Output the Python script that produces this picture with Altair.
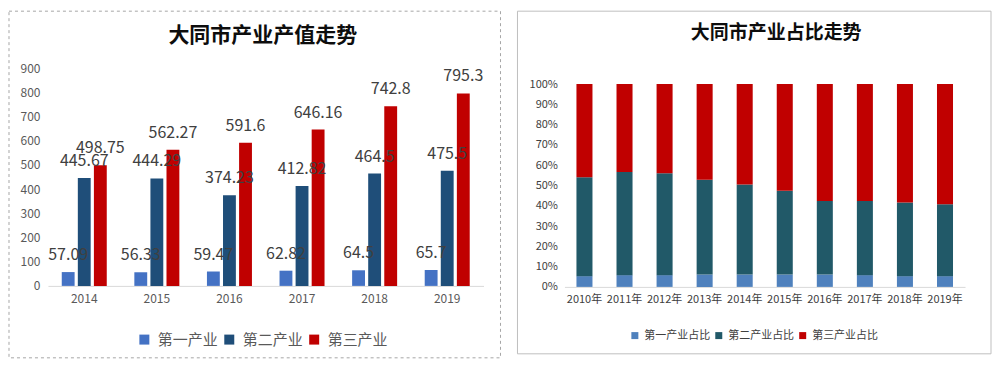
import altair as alt
import pandas as pd

FONT = "Noto Sans CJK SC"

# ---------- data: left chart (产值, 亿元) ----------
years_left = ["2014", "2015", "2016", "2017", "2018", "2019"]
industries_left = ["第一产业", "第二产业", "第三产业"]
primary_value = [57.09, 56.33, 59.47, 62.82, 64.5, 65.7]
secondary_value = [445.67, 444.29, 374.23, 412.82, 464.5, 475.5]
tertiary_value = [498.75, 562.27, 591.6, 646.16, 742.8, 795.3]
colors_left = ["#4472C4", "#1F4E79", "#C00000"]
title_left = "大同市产业产值走势"

# ---------- data: right chart (占比, %) ----------
years_right = ["2010年", "2011年", "2012年", "2013年", "2014年",
               "2015年", "2016年", "2017年", "2018年", "2019年"]
industries_right = ["第一产业占比", "第二产业占比", "第三产业占比"]
primary_share = [5.3, 5.8, 5.8, 6.1, 6.1, 6.1, 6.1, 5.8, 5.3, 5.3]
secondary_share = [48.8, 50.8, 50.3, 46.7, 44.4, 41.3, 36.3, 36.6, 36.3, 35.5]
tertiary_share = [45.9, 43.4, 43.9, 47.2, 49.5, 52.6, 57.6, 57.6, 58.4, 59.2]
colors_right = ["#4F81BD", "#215968", "#C00000"]
title_right = "大同市产业占比走势"

rows1 = []
for i, series in enumerate([primary_value, secondary_value, tertiary_value]):
    for y, v in zip(years_left, series):
        rows1.append({"year": y, "industry": industries_left[i], "idx": i, "value": v})
df1 = pd.DataFrame(rows1)

rows2 = []
for i, series in enumerate([primary_share, secondary_share, tertiary_share]):
    for y, v in zip(years_right, series):
        rows2.append({"year": y, "industry": industries_right[i], "idx": i, "share": v})
df2 = pd.DataFrame(rows2)

one = alt.Data(values=[{}])

# ---------- left chart ----------
W1, H1 = 436, 218
base1 = alt.Chart(df1).encode(
    x=alt.X("year:N", sort=years_left,
            scale=alt.Scale(paddingInner=0.38, paddingOuter=0.19),
            axis=alt.Axis(title=None, labelAngle=0, domainColor="#D9D9D9", ticks=False,
                          labelColor="#595959", labelFontSize=12, labelPadding=8, labelFont=FONT)),
    y=alt.Y("value:Q", scale=alt.Scale(domain=[0, 900], nice=False),
            axis=alt.Axis(title=None, values=list(range(0, 901, 100)), domain=False, ticks=False,
                          grid=False, labelColor="#595959", labelFontSize=12, labelPadding=8,
                          labelFont=FONT)),
    xOffset=alt.XOffset("industry:N", sort=industries_left,
                        scale=alt.Scale(paddingInner=0.2, paddingOuter=0)),
)
bars1 = base1.mark_bar().encode(
    color=alt.Color("industry:N", sort=industries_left,
                    scale=alt.Scale(domain=industries_left, range=colors_left),
                    legend=alt.Legend(title=None, orient="none", direction="horizontal",
                                      legendX=89, legendY=264, symbolType="square",
                                      symbolSize=100, symbolStrokeWidth=0, labelFontSize=15,
                                      labelColor="#595959", labelFont=FONT, columnPadding=3,
                                      labelOffset=6))
)
labels1 = base1.transform_calculate(label="'' + datum.value").mark_text(
    dy=-17, fontSize=16, color="#404040", font=FONT
).encode(text="label:N")
frame1 = alt.Chart(one).mark_rect(fill="white", fillOpacity=0, stroke="#A6A6A6",
                                  strokeDash=[3, 3], strokeWidth=1).encode(
    x=alt.value(-39), x2=alt.value(453), y=alt.value(-57), y2=alt.value(290))
t1 = alt.Chart(one).mark_text(fontSize=21, fontWeight="bold", font=FONT, color="#0D0D0D").encode(
    x=alt.value(215), y=alt.value(-32), text=alt.value(title_left))
left = alt.layer(frame1, bars1, labels1, t1).properties(width=W1, height=H1)

# ---------- right chart ----------
W2, H2 = 401, 219
bars2 = alt.Chart(df2).mark_bar().encode(
    x=alt.X("year:N", sort=years_right,
            scale=alt.Scale(paddingInner=0.6, paddingOuter=0.3),
            axis=alt.Axis(title=None, labelAngle=0, domainColor="#D9D9D9", ticks=False,
                          labelColor="#404040", labelFontSize=11, labelPadding=7, labelFont=FONT)),
    y=alt.Y("share:Q", stack="normalize",
            scale=alt.Scale(domain=[0, 1], range=[219, 16], nice=False),
            axis=alt.Axis(title=None, format=".0%", values=[i / 10 for i in range(11)],
                          domain=False, ticks=False, grid=False, labelColor="#404040",
                          labelFontSize=11, labelPadding=7, labelFont=FONT)),
    color=alt.Color("industry:N", sort=industries_right,
                    scale=alt.Scale(domain=industries_right, range=colors_right),
                    legend=alt.Legend(title=None, orient="none", direction="horizontal",
                                      legendX=65, legendY=262, symbolType="square",
                                      symbolSize=49, symbolStrokeWidth=0, labelFontSize=11,
                                      labelColor="#404040", labelFont=FONT, columnPadding=3,
                                      labelOffset=4)),
    order=alt.Order("idx:Q", sort="ascending"),
)
frame2 = alt.Chart(one).mark_rect(fill="white", fillOpacity=0, stroke="#BFBFBF",
                                  strokeWidth=1).encode(
    x=alt.value(-47), x2=alt.value(427), y=alt.value(-57), y2=alt.value(286))
t2 = alt.Chart(one).mark_text(fontSize=19, fontWeight="bold", font=FONT, color="#0D0D0D").encode(
    x=alt.value(212), y=alt.value(-35), text=alt.value(title_right))
right = alt.layer(frame2, bars2, t2).properties(width=W2, height=H2)

chart = alt.hconcat(left, right, spacing=81, bounds="flush").resolve_scale(
    color="independent", x="independent", y="independent"
).resolve_legend(color="independent").properties(
    padding={"top": 2, "left": 0, "right": 0, "bottom": 0}, background="white"
).configure_view(stroke=None)

chart.save("out.html", embed_options={"renderer": "svg", "actions": False})
